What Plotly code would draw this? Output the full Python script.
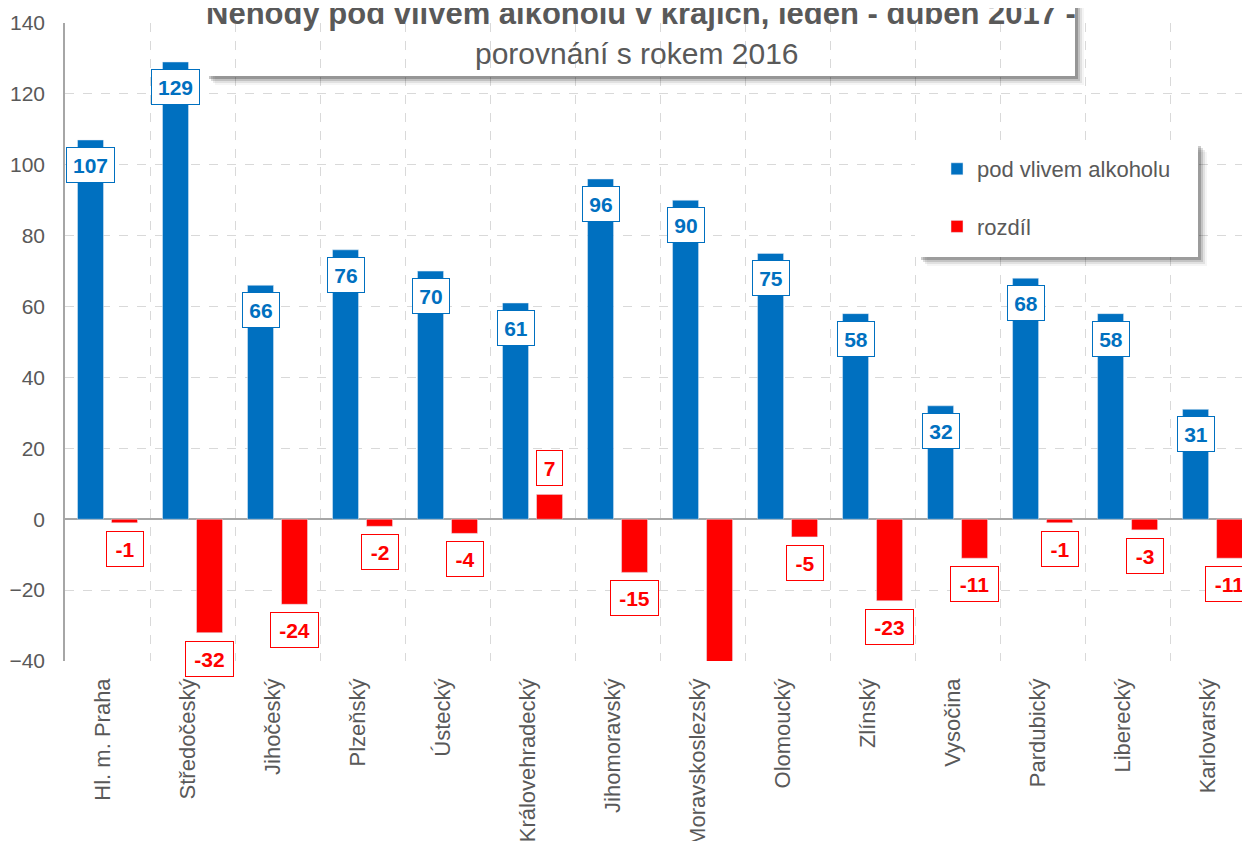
import plotly.graph_objects as go

regions = ["Hl. m. Praha", "Středočeský", "Jihočeský", "Plzeňský", "Ústecký",
           "Královehradecký", "Jihomoravský", "Moravskoslezský", "Olomoucký",
           "Zlínský", "Vysočina", "Pardubický", "Liberecký", "Karlovarský"]
alcohol = [107, 129, 66, 76, 70, 61, 96, 90, 75, 58, 32, 68, 58, 31]
difference = [-1, -32, -24, -2, -4, 7, -15, -44, -5, -23, -11, -1, -3, -11]
y_ticks = [-40, -20, 0, 20, 40, 60, 80, 100, 120, 140]

title_line1 = "Nehody pod vlivem alkoholu v krajích, leden - duben 2017 -"
title_line2 = "porovnání s rokem 2016"

BLUE = "#0070C0"
RED = "#FF0000"
GREY = "#595959"
REG = "Liberation Sans, Arial, sans-serif"

# page body has an 8px margin: figure sits at (8, 8) on screen
OFF = 8
W, H = 1250 - OFF, 841 - OFF
# plot area in screen pixels
L_s, R_s, T_s, B_s = 65, 1250, 23, 661


def px(x):
    return (x - L_s) / (R_s - L_s)


def py(y):
    return (B_s - y) / (B_s - T_s)


fig = go.Figure()
fig.add_bar(x=regions, y=alcohol, name="pod vlivem alkoholu", marker_color=BLUE,
            legendgroup="a")
fig.add_bar(x=regions, y=difference, name="rozdíl", marker_color=RED,
            legendgroup="b")

ymin, ymax = y_ticks[0], y_ticks[-1]

annotations = []
for cat, v in zip(regions, alcohol):
    s = str(v)
    annotations.append(dict(
        x=cat, y=v, xref="x", yref="y", text=f"<b>{s}</b>", showarrow=False,
        xshift=-17, yshift=-7, yanchor="top", xanchor="center",
        font=dict(family=REG, size=21, color=BLUE),
        bgcolor="white", bordercolor=BLUE, borderwidth=1, borderpad=1,
        width=11 * len(s) + 12, height=32))
for cat, v in zip(regions, difference):
    if v < ymin:
        continue
    s = str(v)
    annotations.append(dict(
        x=cat, y=v, xref="x", yref="y", text=f"<b>{s}</b>", showarrow=False,
        xshift=17, yshift=(-8 if v < 0 else 8),
        yanchor=("top" if v < 0 else "bottom"), xanchor="center",
        font=dict(family=REG, size=21, color=RED),
        bgcolor="white", bordercolor=RED, borderwidth=1, borderpad=1,
        width=11 * len(s) + 12, height=32))

# Title
annotations.append(dict(
    x=px(641), y=py(14), xref="paper", yref="paper", text=f"<b>{title_line1}</b>",
    showarrow=False, xanchor="center", yanchor="middle",
    font=dict(family=REG, size=31, color=GREY)))
annotations.append(dict(
    x=px(637), y=py(53), xref="paper", yref="paper", text=title_line2,
    showarrow=False, xanchor="center", yanchor="middle",
    font=dict(family=REG, size=30, color=GREY)))

shapes = []
# Title box shadow (box itself has no fill)
tx0, ty0, tx1, ty1 = 205, -10, 1075, 76
for i, op in enumerate([0.22, 0.14, 0.08, 0.04]):
    d = i * 2
    shapes.append(dict(type="rect", xref="paper", yref="paper",
                       x0=px(tx0 + 4 + d), x1=px(tx1 + 3 + d), y0=py(ty1), y1=py(ty1 + 3 + d),
                       fillcolor="black", opacity=op, line_width=0, layer="above"))
    shapes.append(dict(type="rect", xref="paper", yref="paper",
                       x0=px(tx1), x1=px(tx1 + 3 + d), y0=py(ty0), y1=py(ty1),
                       fillcolor="black", opacity=op, line_width=0, layer="above"))

# Legend box with shadow
lx0, ly0, lx1, ly1 = 915, 140, 1198, 257
for i, op in enumerate([0.2, 0.13, 0.08, 0.04]):
    d = i * 2
    shapes.append(dict(type="rect", xref="paper", yref="paper",
                       x0=px(lx0 + 6 + d), x1=px(lx1 + 3 + d), y0=py(ly0 + 6 + d), y1=py(ly1 + 3 + d),
                       fillcolor="black", opacity=op, line_width=0, layer="above"))
shapes.append(dict(type="rect", xref="paper", yref="paper",
                   x0=px(lx0), x1=px(lx1), y0=py(ly0), y1=py(ly1),
                   fillcolor="white", line_width=0, layer="above"))

fig.update_layout(
    width=W, height=H,
    margin=dict(l=L_s - OFF, r=W - (R_s - OFF), t=T_s - OFF, b=H - (B_s - OFF),
                autoexpand=False),
    paper_bgcolor="white", plot_bgcolor="white",
    barmode="group", bargap=0.2, bargroupgap=0.235,
    showlegend=True,
    legend=dict(x=px(937), y=py(148), xanchor="left", yanchor="top",
                bgcolor="rgba(0,0,0,0)", font=dict(family=REG, size=22, color=GREY),
                tracegroupgap=26, traceorder="grouped", itemwidth=30),
    annotations=annotations, shapes=shapes,
)
fig.update_xaxes(
    type="category", range=[-0.5, 13.44], tickson="boundaries", automargin=False,
    showgrid=True, gridcolor="#D9D9D9", griddash="dash", gridwidth=1,
    showline=False, ticks="", tickangle=-90, ticklabelstandoff=12,
    ticklabelshift=-5,
    tickfont=dict(family=REG, size=22, color=GREY),
)
fig.update_yaxes(
    range=[ymin, ymax], tickvals=y_ticks, showgrid=True, gridcolor="#D9D9D9",
    griddash="dash", gridwidth=1, zeroline=True, zerolinecolor="#A6A6A6",
    zerolinewidth=2, showline=True, linecolor="#A6A6A6", linewidth=1.5,
    ticks="", ticklabelstandoff=14, automargin=False,
    tickfont=dict(family=REG, size=21, color=GREY),
)

fig.write_html("out.html")
